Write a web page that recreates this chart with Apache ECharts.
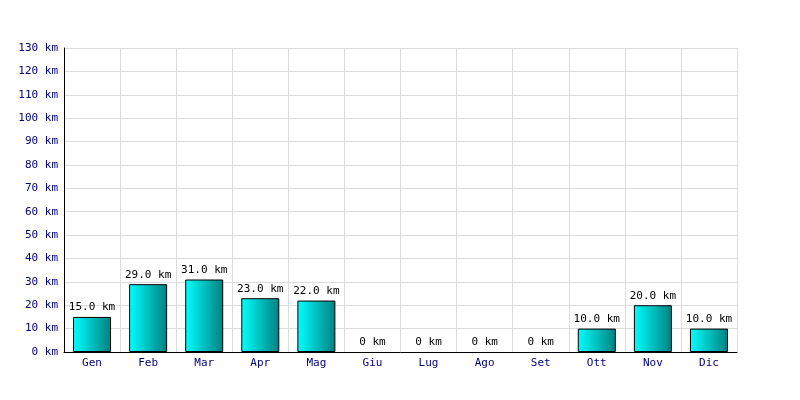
<!DOCTYPE html>
<html><head><meta charset="utf-8">
<script src="https://cdn.jsdelivr.net/npm/echarts@6/dist/echarts.min.js"></script>
<style>html,body{margin:0;padding:0;background:#fff}#c{width:800px;height:400px}</style>
</head><body><div id="c"></div>
<script>
var categories = ['Gen','Feb','Mar','Apr','Mag','Giu','Lug','Ago','Set','Ott','Nov','Dic'];
var values = [15,29,31,23,22,0,0,0,0,10,20,10];
var unit = 'km';
var font = 'DejaVu Sans Mono';
var chart = echarts.init(document.getElementById('c'), null, {renderer:'canvas'});
var seriesData = values.map(function(v){
  return v === 0 ? {value:v, itemStyle:{borderWidth:0, opacity:0}} : {value:v};
});
chart.setOption({
  animation:false,
  backgroundColor:'#ffffff',
  grid:{left:64,right:63,top:48,bottom:48,containLabel:false},
  xAxis:{type:'category',data:categories,boundaryGap:true,
    axisLine:{lineStyle:{color:'#000',width:1}},
    axisTick:{show:false},
    axisLabel:{color:'#000080',fontFamily:font,fontSize:11,margin:6},
    splitLine:{show:true,lineStyle:{color:'#dcdcdc',width:1}}},
  yAxis:{type:'value',min:0,max:130,interval:10,
    axisLine:{show:true,lineStyle:{color:'#000',width:1}},
    axisTick:{show:false},
    axisLabel:{color:'#000080',fontFamily:font,fontSize:11,margin:6,formatter:function(v){return v+' '+unit;}},
    splitLine:{show:true,lineStyle:{color:'#dcdcdc',width:1}}},
  series:[{type:'bar',data:seriesData,barWidth:38,
    itemStyle:{color:new echarts.graphic.LinearGradient(0,0,1,0,[{offset:0,color:'#00ffff'},{offset:1,color:'#008080'}]),borderColor:'#000',borderWidth:1},
    label:{show:true,position:'top',distance:4,color:'#000',fontFamily:font,fontSize:11,opacity:1,
      formatter:function(p){return p.value===0?'0 '+unit:p.value.toFixed(1)+' '+unit;}}}]
});
</script></body></html>
